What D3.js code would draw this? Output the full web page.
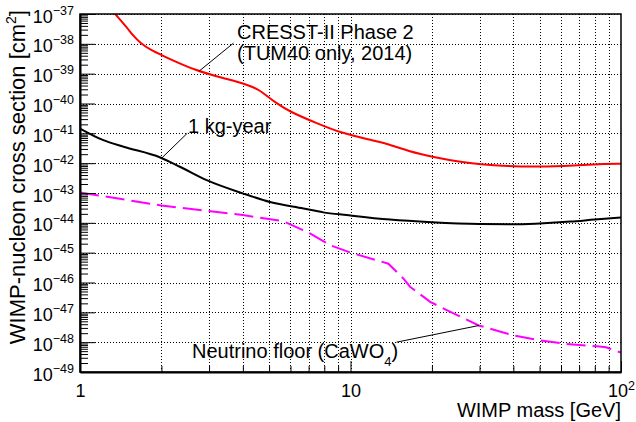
<!doctype html>
<html lang="en">
<head>
<meta charset="UTF-8">
<title>WIMP limits</title>
<script src="https://d3js.org/d3.v7.min.js"></script>
<style>
  body { margin: 0; background: #fff; }
  text { font-family: "Liberation Sans", Arial, sans-serif; fill: #000; }
</style>
</head>
<body>
<div id="chart-area"></div>
<script>

// CRESST-II Phase 2 (TUM40 only, 2014) limit
const massCresst  = [1.35, 1.49, 1.58, 1.67, 1.82, 1.98, 2.7, 3.5, 4.25, 4.6, 4.9, 5.3, 5.97, 7.5, 9.15, 11.8, 13.6, 16.6, 20.2, 25.4, 30.1, 37.8, 50, 66.6, 88.5, 100];
const sigmaCresst = [1.0e-37, 3.55e-38, 1.78e-38, 1.07e-38, 6.31e-39, 4.37e-39, 1.20e-39, 6.61e-40, 3.98e-40, 2.82e-40, 1.82e-40, 1.05e-40, 5.25e-41, 2.19e-41, 1.05e-41, 6.03e-42, 4.57e-42, 2.40e-42, 1.62e-42, 1.10e-42, 9.12e-43, 7.94e-43, 7.59e-43, 8.32e-43, 9.55e-43, 9.55e-43];

// 1 kg-year projection
const massKgYear  = [1, 1.22, 1.45, 1.98, 2.34, 2.94, 4.02, 5.04, 6.7, 7.93, 9.68, 14, 20, 30, 40, 50, 65, 80, 100];
const sigmaKgYear = [1.45e-41, 5.89e-42, 3.55e-42, 1.55e-42, 7.59e-43, 2.69e-43, 9.55e-44, 5.01e-44, 3.02e-44, 2.24e-44, 1.82e-44, 1.29e-44, 1.05e-44, 9.12e-45, 8.91e-45, 9.55e-45, 1.10e-44, 1.29e-44, 1.51e-44];

// neutrino floor (CaWO4)
const massNu  = [1, 2, 4, 5.5, 5.75, 7.08, 8.42, 10, 12.8, 13.8, 15.7, 16.6, 19.7, 23.3, 29.8, 40, 50, 61.5, 81.5, 88, 100];
const sigmaNu = [1.05e-43, 3.80e-44, 1.82e-44, 1.17e-44, 1.05e-44, 4.47e-45, 1.78e-45, 1.0e-45, 5.25e-46, 4.27e-46, 1.35e-46, 7.24e-47, 2.24e-47, 1.05e-47, 3.63e-48, 1.70e-48, 1.15e-48, 8.91e-49, 7.24e-49, 6.76e-49, 4.47e-49];

// tick labels
const xMajor    = [1, 10, 100];
const xMajorTxt = [['1', ''], ['10', ''], ['10', '2']];
const yExps     = [-37, -38, -39, -40, -41, -42, -43, -44, -45, -46, -47, -48, -49];

const W = 636, H = 422;
const margin = { top: 14, right: 15, bottom: 50, left: 80 };
const chartW = W - margin.left - margin.right;
const chartH = H - margin.top - margin.bottom;

const svg = d3.select('#chart-area')
    .append('svg')
    .attr('width', W)
    .attr('height', H);

const g = svg.append('g')
    .attr('transform', `translate(${margin.left},${margin.top})`);

const x = d3.scaleLog().domain([1, 100]).range([0, chartW]);
const y = d3.scaleLog().domain([1e-49, 1e-37]).range([chartH, 0]);

const yMajor = yExps.map(e => Math.pow(10, e));
const xMinor = [], yMinor = [];
[1, 10].forEach(d => { for (let k = 2; k <= 9; k++) xMinor.push(k * d); });
yExps.slice(1).forEach(e => { for (let k = 2; k <= 9; k++) yMinor.push(k * Math.pow(10, e)); });

// grid
const grid = g.append('g')
    .attr('stroke', '#000')
    .attr('stroke-width', 1)
    .attr('stroke-dasharray', '1,2');
grid.selectAll('line.gx')
    .data(xMinor.concat([10]))
    .enter().append('line')
        .attr('x1', d => Math.round(x(d)) + 0.5)
        .attr('x2', d => Math.round(x(d)) + 0.5)
        .attr('y1', 0)
        .attr('y2', chartH);
grid.selectAll('line.gy')
    .data(yMajor)
    .enter().append('line')
        .attr('y1', d => Math.round(y(d)) + 0.5)
        .attr('y2', d => Math.round(y(d)) + 0.5)
        .attr('x1', 0)
        .attr('x2', chartW);

// curves
g.append('clipPath').attr('id', 'clip')
    .append('rect').attr('width', chartW).attr('height', chartH);

const line = d3.line()
    .x(d => x(d[0]))
    .y(d => y(d[1]));

const curves = g.append('g').attr('clip-path', 'url(#clip)');

curves.append('path')
    .datum(d3.zip(massNu, sigmaNu))
    .attr('d', line)
    .attr('fill', 'none')
    .attr('stroke', '#ff00ff')
    .attr('stroke-width', 2)
    .attr('stroke-dasharray', '19,7');

curves.append('path')
    .datum(d3.zip(massKgYear, sigmaKgYear))
    .attr('d', line.curve(d3.curveMonotoneX))
    .attr('fill', 'none')
    .attr('stroke', '#000')
    .attr('stroke-width', 2);

curves.append('path')
    .datum(d3.zip(massCresst, sigmaCresst))
    .attr('d', line.curve(d3.curveBasis))
    .attr('fill', 'none')
    .attr('stroke', '#ff0000')
    .attr('stroke-width', 2);

// frame
g.append('rect')
    .attr('width', chartW)
    .attr('height', chartH)
    .attr('fill', 'none')
    .attr('stroke', '#000')
    .attr('stroke-width', 1.5);

// y axis
const yAxisMinor = d3.axisLeft(y).tickValues(yMinor).tickSize(-8).tickSizeOuter(0).tickFormat('');
g.append('g').call(yAxisMinor).call(a => a.select('.domain').remove());

const yAxis = d3.axisLeft(y).tickValues(yMajor).tickSize(-15).tickSizeOuter(0).tickPadding(6).tickFormat('');
const ya = g.append('g').call(yAxis);
ya.select('.domain').attr('stroke-width', 2);
ya.selectAll('.tick text')
    .attr('dy', '8px')
    .style('font-size', '18px')
    .each(function (d, i) {
        const t = d3.select(this);
        t.append('tspan').text('10');
        t.append('tspan').attr('dy', -8).style('font-size', '12.5px').text('\u2212' + (-yExps[i]));
    });

// x axis
const xAxisMinor = d3.axisBottom(x).tickValues(xMinor).tickSize(-6).tickSizeOuter(0).tickFormat('');
g.append('g').attr('transform', `translate(0,${chartH})`).call(xAxisMinor)
    .call(a => a.select('.domain').remove());

const xAxis = d3.axisBottom(x).tickValues(xMajor).tickSize(-11).tickSizeOuter(0).tickPadding(12).tickFormat('');
const xa = g.append('g').attr('transform', `translate(0,${chartH})`).call(xAxis);
xa.select('.domain').attr('stroke-width', 2);
xa.selectAll('.tick text')
    .style('font-size', '18px')
    .each(function (d, i) {
        const t = d3.select(this);
        t.append('tspan').text(xMajorTxt[i][0]);
        if (xMajorTxt[i][1]) t.append('tspan').attr('dy', -7).style('font-size', '12.5px').text(xMajorTxt[i][1]);
    });

// axis titles
svg.append('text')
    .attr('x', margin.left + chartW)
    .attr('y', 417)
    .attr('text-anchor', 'end')
    .style('font-size', '20px')
    .text('WIMP mass [GeV]');

const yt = svg.append('text')
    .attr('transform', `translate(25,10) rotate(-90)`)
    .attr('text-anchor', 'end')
    .style('font-size', '22px');
yt.append('tspan').text('WIMP-nucleon cross section [cm');
yt.append('tspan').attr('dy', -9).style('font-size', '14px').text('2');
yt.append('tspan').attr('dy', 9).text(']');

// annotations
const leader = (m0, s0, m1, s1) => g.append('line')
    .attr('x1', x(m0)).attr('y1', y(s0))
    .attr('x2', x(m1)).attr('y2', y(s1))
    .attr('stroke', '#000').attr('stroke-width', 1);

leader(2.76, 1.23e-39, 3.69, 1.05e-38);
leader(2.0, 1.45e-42, 2.49, 1.0e-41);
leader(14.8, 1.0e-48, 29.9, 3.63e-48);

const note = svg.append('g').style('font-size', '20px');
note.append('text').attr('x', 237).attr('y', 39).text('CRESST-II Phase 2');
note.append('text').attr('x', 237).attr('y', 60).text('(TUM40 only, 2014)');
note.append('text').attr('x', 188).attr('y', 133).text('1 kg-year');
const nf = note.append('text').attr('x', 192).attr('y', 358);
nf.append('tspan').text('Neutrino floor (CaWO');
nf.append('tspan').attr('dy', 8).style('font-size', '13px').text('4');
nf.append('tspan').attr('dy', -8).text(')');

</script>
</body>
</html>
